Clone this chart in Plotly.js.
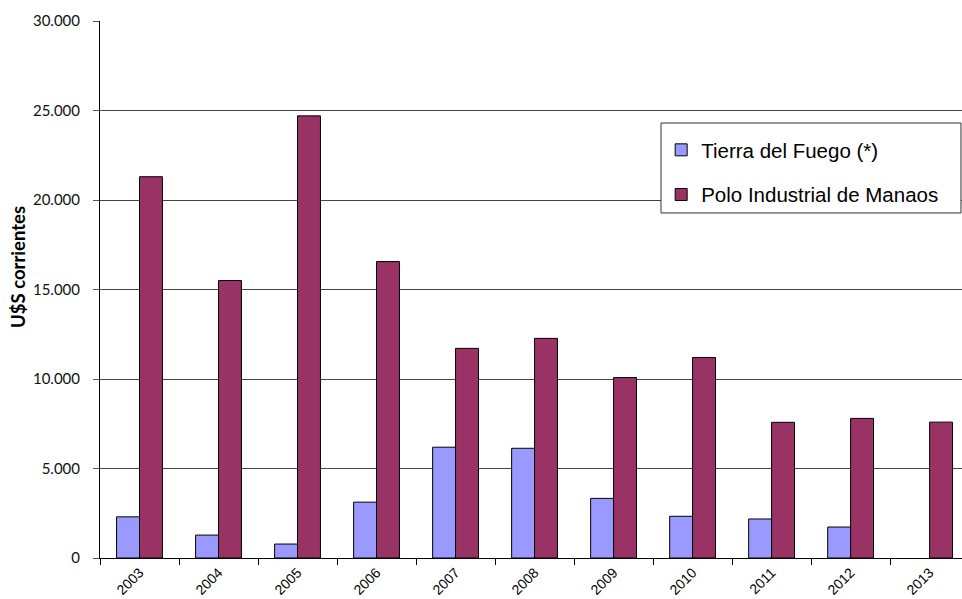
<!DOCTYPE html>
<html>
<head>
<meta charset="utf-8">
<script src="https://cdn.plot.ly/plotly-3.0.1.min.js"></script>
<style>html,body{margin:0;padding:0;background:#fff;}#chart{width:962px;height:599px;}</style>
</head>
<body>
<div id="chart"></div>
<script>
const years = ["2003","2004","2005","2006","2007","2008","2009","2010","2011","2012","2013"];
const tierraDelFuego = [2300, 1280, 780, 3120, 6190, 6130, 3330, 2330, 2180, 1730, null];
const poloManaos = [21300, 15500, 24700, 16560, 11710, 12270, 10080, 11200, 7580, 7800, 7590];
const seriesNames = ["Tierra del Fuego (*)", "Polo Industrial de Manaos"];
const yTitle = "U$S corrientes";

const traces = [
  {type:"bar", name:seriesNames[0], x:years, y:tierraDelFuego, legendgroup:"a",
   marker:{color:"#9999FF", line:{color:"#000", width:1}}},
  {type:"bar", name:seriesNames[1], x:years, y:poloManaos, legendgroup:"b",
   marker:{color:"#993366", line:{color:"#000", width:1}}}
];

const layout = {
  width:962, height:599,
  margin:{l:100, r:0, t:21, b:41},
  paper_bgcolor:"#fff", plot_bgcolor:"#fff",
  separators:",.",
  barmode:"group", bargap:0.42, bargroupgap:0,
  showlegend:true,
  legend:{x:0.651, y:0.797, xanchor:"left", yanchor:"top",
    bgcolor:"rgba(0,0,0,0)", borderwidth:0,
    font:{family:"Liberation Sans, Arial, sans-serif", size:20.5, color:"#000"},
    traceorder:"grouped", tracegroupgap:15},
  shapes:[{type:"rect", xref:"paper", yref:"paper", x0:0.6508, x1:0.9988, y0:0.6425, y1:0.810,
    fillcolor:"#fff", line:{color:"#333", width:1}, layer:"above"}],
  annotations:[{text:"<b>"+yTitle+"</b>", xref:"paper", yref:"paper", x:0, y:0.542,
    xanchor:"center", yanchor:"middle", xshift:-82, textangle:-90, showarrow:false,
    font:{family:"Lato, Open Sans, sans-serif", size:18.5, color:"#000"}}],
  xaxis:{type:"category", range:[-0.5, 10.41], tickson:"boundaries", ticks:"outside", ticklen:6,
    tickcolor:"#000", showline:true, linecolor:"#000", linewidth:1, showgrid:false,
    tickangle:-45, tickfont:{family:"Liberation Sans, Arial, sans-serif", size:14, color:"#000"}},
  yaxis:{range:[0,30000], dtick:5000, tickformat:",.0f", ticks:"outside", ticklen:6, tickcolor:"#555",
    ticklabelstandoff:10,
    showline:true, linecolor:"#000", linewidth:1, showgrid:true, gridcolor:"#444", gridwidth:1,
    zeroline:false,
    tickfont:{family:"Lato, Open Sans, sans-serif", size:15, color:"#111"}}
};

Plotly.newPlot("chart", traces, layout, {displayModeBar:false, staticPlot:true});
</script>
</body>
</html>
